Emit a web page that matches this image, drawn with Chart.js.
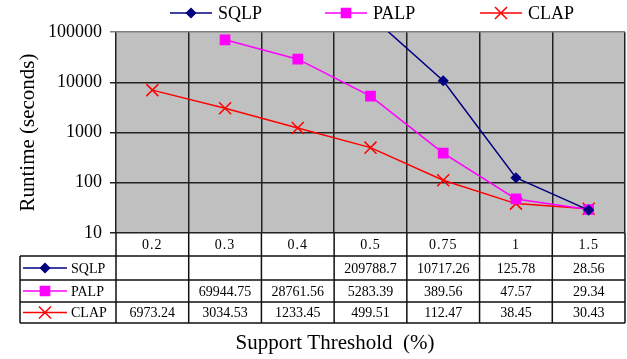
<!DOCTYPE html>
<html>
<head>
<meta charset="utf-8">
<script src="https://cdn.jsdelivr.net/npm/chart.js@4.4.1/dist/chart.umd.min.js"></script>
<style>
  body { margin: 0; background: #fff; }
  #wrap { width: 627px; height: 359px; }
</style>
</head>
<body>
<div id="wrap"><canvas id="runtime"></canvas></div>
<script>
const thresholds = ['0.2', '0.3', '0.4', '0.5', '0.75', '1', '1.5'];
const sqlp = [null, null, null, 209788.7, 10717.26, 125.78, 28.56];
const palp = [null, 69944.75, 28761.56, 5283.39, 389.56, 47.57, 29.34];
const clap = [6973.24, 3034.53, 1233.45, 499.51, 112.47, 38.45, 30.43];
const yTicks = [10, 100, 1000, 10000, 100000];

const serif = "'Liberation Serif', 'Times New Roman', serif";

const series = [
    { label: 'SQLP', data: sqlp, color: '#000080', style: 'rectRot', radius: 4.5 },
    { label: 'PALP', data: palp, color: '#ff00ff', style: 'rect', radius: 6.5 },
    { label: 'CLAP', data: clap, color: '#ff0000', style: 'crossRot', radius: 8.5 },
];

// line + marker sample, same look as the dataset
function drawSample(ctx, s, x1, x2, y) {
    ctx.save();
    ctx.strokeStyle = s.color;
    ctx.fillStyle = s.color;
    ctx.lineWidth = 1.5;
    ctx.beginPath();
    ctx.moveTo(x1, y);
    ctx.lineTo(x2, y);
    ctx.stroke();
    Chart.helpers.drawPoint(ctx, { pointStyle: s.style, radius: s.radius, rotation: 0, borderWidth: 1.5 }, (x1 + x2) / 2, y);
    ctx.restore();
}

const plotBackground = {
    id: 'plotBackground',
    beforeDraw(chart) {
        const a = chart.chartArea;
        const ctx = chart.ctx;
        ctx.save();
        ctx.fillStyle = '#c0c0c0';
        ctx.fillRect(a.left, a.top, a.right - a.left, a.bottom - a.top);
        ctx.restore();
    }
};

const topLegend = {
    id: 'topLegend',
    afterDraw(chart) {
        const ctx = chart.ctx;
        const starts = [170, 325, 480];
        ctx.save();
        ctx.font = '18px ' + serif;
        ctx.textBaseline = 'middle';
        series.forEach((s, i) => {
            drawSample(ctx, s, starts[i], starts[i] + 42, 13);
            ctx.fillStyle = '#000';
            ctx.fillText(s.label, starts[i] + 48, 14);
        });
        ctx.restore();
    }
};

const dataTable = {
    id: 'dataTable',
    afterDraw(chart) {
        const ctx = chart.ctx;
        const x = chart.scales.x;
        const a = chart.chartArea;
        const half = (a.right - a.left) / thresholds.length / 2;
        const rows = [256, 280, 302, 323];
        const left = 20;
        ctx.save();
        ctx.strokeStyle = '#111';
        ctx.lineWidth = 1.5;
        ctx.beginPath();
        for (let i = 0; i <= thresholds.length; i++) {
            const px = i < thresholds.length ? x.getPixelForValue(i) - half : x.getPixelForValue(i - 1) + half;
            ctx.moveTo(px, a.bottom);
            ctx.lineTo(px, rows[3]);
        }
        ctx.moveTo(left, rows[0]);
        ctx.lineTo(left, rows[3]);
        rows.forEach(r => {
            ctx.moveTo(left, r);
            ctx.lineTo(a.right, r);
        });
        ctx.stroke();

        ctx.font = '14px ' + serif;
        ctx.textBaseline = 'middle';
        ctx.fillStyle = '#000';
        ctx.textAlign = 'center';
        ctx.letterSpacing = '1px';
        thresholds.forEach((t, i) => {
            ctx.fillText(t, x.getPixelForValue(i), (a.bottom + rows[0]) / 2 + 1);
        });
        ctx.letterSpacing = '0px';
        series.forEach((s, k) => {
            const cy = (rows[k] + rows[k + 1]) / 2;
            drawSample(ctx, s, 23, 67, cy);
            ctx.fillStyle = '#000';
            ctx.textAlign = 'left';
            ctx.fillText(s.label, 71, cy + 1);
            ctx.textAlign = 'center';
            s.data.forEach((v, i) => {
                if (v === null) return;
                ctx.fillText(String(v), x.getPixelForValue(i), cy + 1);
            });
        });

        // axis title, centred under the whole table as in the original
        ctx.font = '21px ' + serif;
        ctx.textAlign = 'center';
        ctx.fillText('Support Threshold  (%)', 335, 343);
        ctx.restore();
    }
};

new Chart(document.getElementById('runtime'), {
    type: 'line',
    data: {
        labels: thresholds,
        datasets: series.map(s => ({
            label: s.label,
            data: s.data,
            borderColor: s.color,
            backgroundColor: s.color,
            borderWidth: 1.5,
            pointStyle: s.style,
            pointRadius: s.radius,
            pointBorderWidth: 1.5,
            tension: 0,
        }))
    },
    options: {
        responsive: true,
        maintainAspectRatio: false,
        animation: false,
        layout: { autoPadding: false, padding: { top: 32, right: 2, bottom: 0, left: 0 } },
        plugins: {
            legend: { display: false },
            tooltip: { enabled: false },
        },
        scales: {
            x: {
                offset: true,
                afterFit: s => { s.height = 126; },
                grid: {
                    offset: true,
                    drawTicks: false,
                    lineWidth: 1.5,
                    color: c => c.index === thresholds.length ? '#808080' : '#222',
                },
                border: { display: false },
                ticks: { display: false },
            },
            y: {
                type: 'logarithmic',
                min: 10,
                max: 100000,
                afterFit: s => { s.width = 116; },
                afterBuildTicks: s => { s.ticks = yTicks.map(v => ({ value: v })); },
                grid: {
                    lineWidth: 1.5,
                    tickLength: 6,
                    color: c => c.tick && c.tick.value === 100000 ? '#808080' : '#222',
                },
                border: { display: false },
                ticks: {
                    padding: 8,
                    color: '#000',
                    font: { family: serif, size: 18 },
                    callback: v => String(v),
                },
                title: {
                    display: true,
                    text: 'Runtime (seconds)',
                    color: '#000',
                    font: { family: serif, size: 21 },
                    padding: { top: 16, bottom: 0 },
                },
            }
        }
    },
    plugins: [plotBackground, topLegend, dataTable]
});
</script>
</body>
</html>
